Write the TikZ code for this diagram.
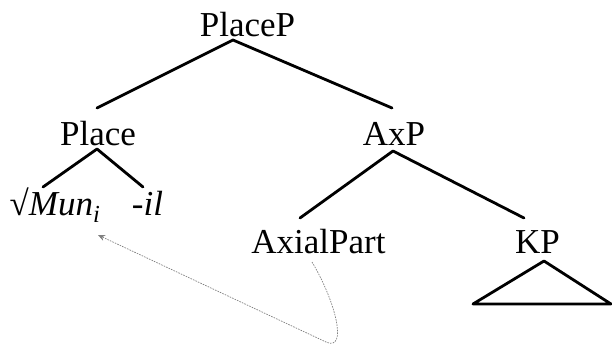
\documentclass[tikz,border=0pt]{standalone}
\usepackage{fontspec}
\setmainfont{Liberation Serif}
\usetikzlibrary{arrows.meta}
\tikzset{
  lbl/.style={inner sep=0pt, anchor=base, font=\fontsize{35}{40}\selectfont},
  branch/.style={line width=2.8pt, line cap=round, line join=round},
  movement/.style={gray, line width=0.7pt, dash pattern=on 1.6pt off 1.1pt, -{Stealth[length=7pt,width=6pt]}}
}
\begin{document}
\begin{tikzpicture}[x=1pt,y=-1pt]
\useasboundingbox (0,0) rectangle (612,345);
% labels
\node[lbl] (placeP) at (247.5,37) {PlaceP};
\node[lbl] (place) at (98,145) {Place};
\node[lbl] (axP) at (394,145) {AxP};
\node[lbl] (mun) at (55,215) {√\textit{Mun\textsubscript{i}}};
\node[lbl] (il) at (147.5,215) {\textit{-il}};
\node[lbl] (axial) at (318.5,253) {AxialPart};
\node[lbl] (kp) at (537.5,253) {KP};
% branch end points
\coordinate (placeP-d) at (233,40);
\coordinate (place-u) at (97,108);
\coordinate (axP-u) at (392,108);
\coordinate (place-d) at (97,149);
\coordinate (mun-u) at (43,187);
\coordinate (il-u) at (143,187);
\coordinate (axP-d) at (393,151);
\coordinate (axial-u) at (300,218);
\coordinate (kp-u) at (524,218);
\coordinate (tri-top) at (544,261);
\coordinate (tri-l) at (473,304);
\coordinate (tri-r) at (611,304);
% branches
\draw[branch] (place-u) -- (placeP-d) -- (axP-u);
\draw[branch] (mun-u) -- (place-d) -- (il-u);
\draw[branch] (axial-u) -- (axP-d) -- (kp-u);
\draw[branch, line cap=butt] (tri-top) -- (tri-l) -- (tri-r) -- cycle;
% movement arrow
\coordinate (mv-start) at (312,262);
\coordinate (mv-bottom) at (326,342);
\coordinate (mv-end) at (98,235);
\draw[movement] (mv-start) .. controls (336,302) and (348,352) .. (mv-bottom) -- (mv-end);
\end{tikzpicture}
\end{document}
